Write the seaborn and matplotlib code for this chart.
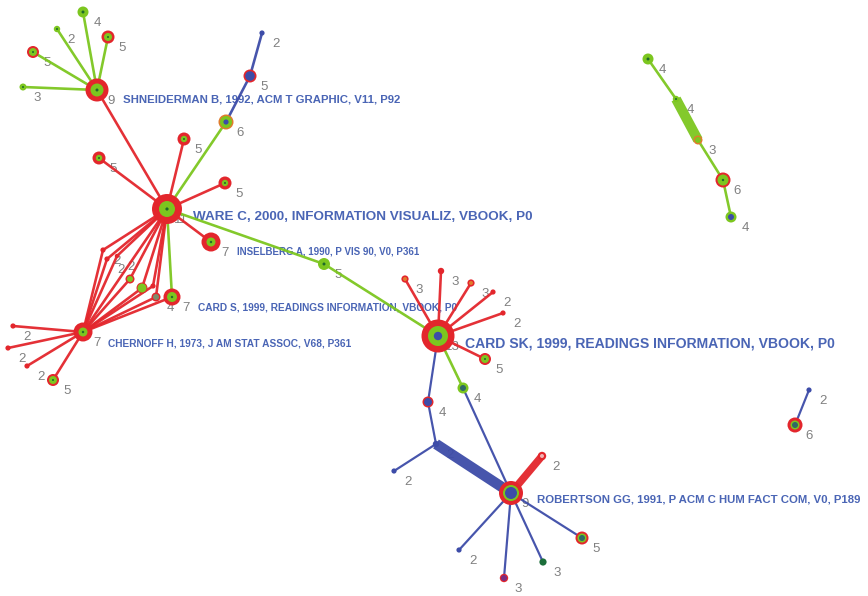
import matplotlib
matplotlib.use("Agg")
import matplotlib.pyplot as plt
import seaborn as sns
import pandas as pd

sns.set_theme(style="white")
plt.rcParams["font.family"] = ["Liberation Sans", "DejaVu Sans"]

# palette
RED = "#e3262c"
GRN = "#7cc61f"
BLU = "#3d4ca8"
DKG = "#1f6a2a"
ORG = "#e07b2c"
TEAL = "#2e6a66"
PURP = "#7a2c80"
PINK = "#f3b3b3"
GREY = "#7f8c6a"
FOREST = "#1b6e3a"
NONE = ""

# co-citation network: node layout (screen units), citation counts, ring styles
node_id = ["shn", "s1", "s2", "s3", "s4", "s5",
           "ware", "w1", "w2", "w3", "w4", "w5", "w6", "w7", "insel", "cards",
           "d1", "d2", "d3", "d4", "d5", "d6", "d7",
           "chern", "c1", "c2", "c3", "c4",
           "cardsk", "k1", "k2", "k3", "k4", "k5", "k6", "k7", "k8", "junc", "j2",
           "rob", "rr", "p1", "p2", "p3", "p4",
           "r1", "r2", "r3", "r4", "r5", "i1", "i2"]
node_x = [97, 83, 57, 108, 33, 23,
          167, 184, 99, 225, 226, 250, 262, 211, 324, 172,
          103, 107, 117, 130, 142, 153, 156,
          83, 13, 8, 27, 53,
          438, 405, 441, 471, 493, 503, 485, 463, 428, 436, 394,
          511, 542, 459, 504, 543, 582,
          648, 676, 698, 723, 731, 795, 809]
node_y = [90, 12, 29, 37, 52, 87,
          209, 139, 158, 183, 122, 76, 33, 242, 264, 297,
          250, 259, 256, 279, 288, 286, 297,
          332, 326, 348, 366, 380,
          336, 279, 271, 283, 292, 313, 359, 388, 402, 444, 471,
          493, 456, 550, 578, 562, 538,
          59, 99, 140, 180, 217, 425, 390]
node_count = [9, 4, 2, 5, 5, 3,
              11, 5, 5, 5, 6, 5, 2, 7, 5, 7,
              2, 2, 2, 0, 0, 0, 4,
              7, 2, 2, 2, 5,
              13, 3, 3, 3, 2, 2, 5, 4, 4, 2, 2,
              9, 2, 2, 3, 3, 5,
              4, 4, 3, 6, 4, 6, 2]
outer_col = [RED, GRN, GRN, RED, RED, GRN,
             RED, RED, RED, RED, ORG, RED, BLU, RED, GRN, RED,
             RED, RED, RED, RED, RED, RED, RED,
             RED, RED, RED, RED, RED,
             RED, RED, RED, RED, RED, RED, RED, GRN, RED, BLU, BLU,
             RED, RED, BLU, RED, FOREST, RED,
             GRN, GRN, ORG, RED, GRN, RED, BLU]
outer_r = [11.5, 5.5, 3.2, 6.5, 6.0, 3.5,
           15.0, 6.5, 6.5, 6.5, 7.5, 6.5, 2.6, 9.5, 6.0, 8.5,
           2.6, 2.6, 2.2, 4.5, 5.5, 2.6, 4.5,
           9.5, 2.6, 2.6, 2.6, 6.0,
           16.5, 3.6, 3.2, 3.6, 2.6, 2.6, 6.0, 5.5, 5.5, 3.2, 2.6,
           12.0, 4.2, 2.6, 4.2, 3.6, 6.5,
           5.5, 3.2, 4.5, 7.5, 5.5, 7.5, 2.6]
mid_col = [GRN, NONE, NONE, GRN, GRN, NONE,
           GRN, GRN, GRN, GRN, GRN, BLU, NONE, GRN, NONE, GRN,
           NONE, NONE, NONE, GRN, GRN, NONE, GREY,
           GRN, NONE, NONE, NONE, GRN,
           GRN, ORG, NONE, ORG, NONE, NONE, GRN, NONE, BLU, NONE, NONE,
           GRN, PINK, NONE, PURP, NONE, GRN,
           NONE, NONE, GRN, GRN, NONE, GRN, NONE]
mid_r = [6.5, 0, 0, 4.0, 4.0, 0,
         8.0, 3.2, 3.2, 3.2, 6.0, 4.8, 0, 4.5, 0, 5.0,
         0, 0, 0, 3.0, 4.5, 0, 3.0,
         4.5, 0, 0, 0, 4.0,
         10.0, 2.0, 0, 2.0, 0, 0, 4.0, 0, 4.0, 0, 0,
         8.0, 2.0, 0, 3.0, 0, 4.5,
         0, 0, 3.0, 5.5, 0, 4.5, 0]
core_col = [DKG, DKG, DKG, DKG, DKG, DKG,
            DKG, DKG, DKG, DKG, BLU, NONE, NONE, DKG, DKG, DKG,
            NONE, NONE, NONE, NONE, NONE, NONE, NONE,
            DKG, NONE, NONE, NONE, DKG,
            BLU, NONE, NONE, NONE, NONE, NONE, DKG, TEAL, NONE, NONE, NONE,
            BLU, NONE, NONE, NONE, NONE, TEAL,
            DKG, DKG, NONE, DKG, BLU, TEAL, NONE]
core_r = [1.5, 1.5, 1.0, 1.0, 1.0, 1.0,
          1.6, 1.0, 1.0, 1.0, 2.6, 0, 0, 1.2, 1.5, 1.2,
          0, 0, 0, 0, 0, 0, 0,
          1.2, 0, 0, 0, 1.0,
          4.2, 0, 0, 0, 0, 0, 1.0, 3.0, 0, 0, 0,
          6.0, 0, 0, 0, 0, 3.0,
          1.5, 1.0, 0, 1.2, 3.0, 3.0, 0]

# co-citation links: endpoints, link colour, stroke weight
edge_src = ["shn", "shn", "shn", "shn", "shn", "shn",
            "ware", "ware", "ware", "ware", "w4", "w5", "ware", "ware", "insel", "ware",
            "ware", "d1", "ware", "d2", "ware", "d3", "ware", "d4", "ware", "d5",
            "ware", "d6", "ware", "d7", "cards", "ware",
            "chern", "chern", "chern", "chern",
            "cardsk", "cardsk", "cardsk", "cardsk", "cardsk", "cardsk",
            "cardsk", "k7", "cardsk", "k8", "junc", "junc",
            "rob", "rob", "rob", "rob", "rob",
            "r1", "r2", "r3", "r4", "i1"]
edge_dst = ["s1", "s2", "s3", "s4", "s5", "ware",
            "w1", "w2", "w3", "w4", "w5", "w6", "w7", "insel", "cardsk", "cards",
            "d1", "chern", "d2", "chern", "d3", "chern", "d4", "chern", "d5", "chern",
            "d6", "chern", "d7", "chern", "chern", "chern",
            "c1", "c2", "c3", "c4",
            "k1", "k2", "k3", "k4", "k5", "k6",
            "k7", "rob", "k8", "junc", "rob", "j2",
            "rr", "p1", "p2", "p3", "p4",
            "r2", "r3", "r4", "r5", "i2"]
edge_col = [GRN, GRN, GRN, GRN, GRN, RED,
            RED, RED, RED, GRN, BLU, BLU, RED, GRN, GRN, GRN,
            RED, RED, RED, RED, RED, RED, RED, RED, RED, RED,
            RED, RED, RED, RED, RED, RED,
            RED, RED, RED, RED,
            RED, RED, RED, RED, RED, RED,
            GRN, BLU, BLU, BLU, BLU, BLU,
            RED, BLU, BLU, BLU, BLU,
            GRN, GRN, GRN, GRN, BLU]
edge_w = [2.6] * 42 + [2.6, 2.2, 2.2, 2.2, 10.5, 2.2,
                       7.5, 2.2, 2.2, 2.2, 2.2,
                       2.6, 10.0, 2.6, 2.6, 2.2]

# reference labels for the most cited nodes
ref_node = ["shn", "ware", "insel", "cards", "chern", "cardsk", "rob"]
ref_text = ["SHNEIDERMAN B, 1992, ACM T GRAPHIC, V11, P92",
            "WARE C, 2000, INFORMATION VISUALIZ, VBOOK, P0",
            "INSELBERG A, 1990, P VIS 90, V0, P361",
            "CARD S, 1999, READINGS INFORMATION, VBOOK, P0",
            "CHERNOFF H, 1973, J AM STAT ASSOC, V68, P361",
            "CARD SK, 1999, READINGS INFORMATION, VBOOK, P0",
            "ROBERTSON GG, 1991, P ACM C HUM FACT COM, V0, P189"]
ref_size = [8.2, 9.7, 7.0, 7.3, 7.3, 10.1, 8.2]
ref_dx = [26, 26, -87, 26, 25, 27, 26]
ref_dy = [10, 8, -12, 11, 11, 7, 7]

W, H, DPI = 868, 596, 100
PX = 72.0 / DPI  # points per pixel

nodes = pd.DataFrame({"id": node_id, "x": node_x, "y": node_y, "count": node_count,
                      "oc": outer_col, "orr": outer_r, "mc": mid_col, "mr": mid_r,
                      "cc": core_col, "cr": core_r}).set_index("id")

fig = plt.figure(figsize=(W / DPI, H / DPI), dpi=DPI)
ax = fig.add_axes([0, 0, 1, 1])
ax.set_xlim(0, W)
ax.set_ylim(H, 0)
ax.axis("off")

# links
for s, d, c, w in zip(edge_src, edge_dst, edge_col, edge_w):
    a, b = nodes.loc[s], nodes.loc[d]
    ax.plot([a.x, b.x], [a.y, b.y], color=c, lw=w * PX,
            solid_capstyle="butt", zorder=3, alpha=0.95)

# nodes as concentric rings: outer ring, middle ring, core dot
for col_key, r_key, z in (("oc", "orr", 4), ("mc", "mr", 5), ("cc", "cr", 6)):
    layer = nodes[nodes[r_key] > 0].copy()
    layer["area"] = (2 * layer[r_key] * PX) ** 2
    sns.scatterplot(data=layer, x="x", y="y", hue=col_key, size="area",
                    palette={c: c for c in layer[col_key].unique()},
                    sizes={a: a for a in layer["area"].unique()},
                    linewidth=0, legend=False, ax=ax, zorder=z)

# citation counts beside each node
for nid, row in nodes.iterrows():
    if row["count"] > 0:
        ax.text(row.x + 14, row.y + 11, str(int(row["count"])), fontsize=9.5,
                color="#808080", ha="center", va="center", zorder=1)

# reference labels
for nid, txt, fs, dx, dy in zip(ref_node, ref_text, ref_size, ref_dx, ref_dy):
    row = nodes.loc[nid]
    ax.text(row.x + dx, row.y + dy, txt, fontsize=fs, fontweight="bold",
            color="#4a65b5", ha="left", va="center", zorder=2)

fig.savefig("out.png", dpi=DPI, facecolor="white")
